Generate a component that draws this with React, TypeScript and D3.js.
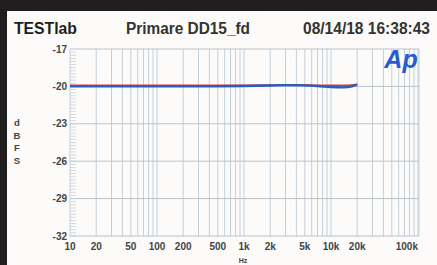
import React, { useEffect, useRef } from "react";
import * as d3 from "d3";

// frequency response, dBFS
const freqs = [10, 20, 50, 100, 200, 500, 1000, 2000, 3000, 5000, 7000, 10000, 14000, 17000, 20000];
const blueLevels = [-20, -20, -20, -20, -20, -19.99, -19.97, -19.93, -19.9, -19.92, -19.97, -20.05, -20.08, -20.02, -19.86];
const redLevels = [-19.93, -19.93, -19.93, -19.93, -19.93, -19.93, -19.92, -19.9, -19.88, -19.9, -19.92, -19.92, -19.92, -19.9, -19.85];

const yTicks = [-17, -20, -23, -26, -29, -32];
const xTickValues = [10, 20, 50, 100, 200, 500, 1000, 2000, 5000, 10000, 20000, 100000];
const xTickLabels = ["10", "20", "50", "100", "200", "500", "1k", "2k", "5k", "10k", "20k", "100k"];

const App = () => {
  const ref = useRef(null);

  useEffect(() => {
    const width = 437;
    const height = 265;
    const svg = d3.select(ref.current).attr("width", width).attr("height", height);
    svg.selectAll("*").remove();

    const x = d3.scaleLog().domain([10, 100000]).range([70, 418]);
    const y = d3.scaleLinear().domain([-32, -17]).range([236, 49]);
    const font = "'Liberation Sans', Arial, sans-serif";

    // dark frame + white panel
    svg.append("rect").attr("width", width).attr("height", height).attr("fill", "#1f1d1d");
    svg.append("rect").attr("x", 7).attr("y", 11).attr("width", width - 7).attr("height", height - 11).attr("fill", "#fcfbfa");

    // header
    const header = [
      { t: "TESTlab", x: 14, w: 63, wt: "bold" },
      { t: "Primare DD15_fd", x: 126, w: 124, wt: "bold" },
      { t: "08/14/18 16:38:43", x: 303, w: 127, wt: "bold" },
    ];
    svg.selectAll("text.hdr")
      .data(header)
      .enter()
      .append("text")
      .attr("class", "hdr")
      .attr("x", d => d.x)
      .attr("y", 34)
      .attr("textLength", d => d.w)
      .attr("lengthAdjust", "spacingAndGlyphs")
      .attr("font-family", font)
      .attr("font-size", 16)
      .attr("font-weight", d => d.wt)
      .attr("fill", (_, i) => (i === 0 ? "#1e1e1e" : "#333"))
      .text(d => d.t);

    // vertical grid: 1..9 per decade
    const vLines = [];
    for (let dec = 10; dec < 100000; dec *= 10) {
      for (let m = 1; m < 10; m++) vLines.push(dec * m);
    }
    vLines.push(100000);
    svg.selectAll("line.v")
      .data(vLines)
      .enter()
      .append("line")
      .attr("x1", d => x(d))
      .attr("x2", d => x(d))
      .attr("y1", y(-17))
      .attr("y2", y(-32))
      .attr("stroke", "#c3d0da")
      .attr("stroke-width", 1);
    svg.append("line")
      .attr("x1", 419).attr("x2", 419).attr("y1", y(-17)).attr("y2", y(-32))
      .attr("stroke", "#c3d0da");

    // horizontal grid
    svg.selectAll("line.h")
      .data(yTicks)
      .enter()
      .append("line")
      .attr("x1", 70)
      .attr("x2", 419)
      .attr("y1", d => y(d))
      .attr("y2", d => y(d))
      .attr("stroke", "#b9c3cb")
      .attr("stroke-width", 1);

    // minor ticks on left edge
    const minor = d3.range(-32, -17, 0.25);
    svg.selectAll("line.m")
      .data(minor)
      .enter()
      .append("line")
      .attr("x1", 70)
      .attr("x2", 76)
      .attr("y1", d => y(d))
      .attr("y2", d => y(d))
      .attr("stroke", "#c8d0d8")
      .attr("stroke-width", 0.8);

    // y labels
    svg.selectAll("text.yl")
      .data(yTicks)
      .enter()
      .append("text")
      .attr("x", 67)
      .attr("y", d => y(d) + 3.5)
      .attr("text-anchor", "end")
      .attr("font-family", font)
      .attr("font-size", 10)
      .attr("font-weight", "bold")
      .attr("fill", "#444")
      .text(d => d);

    // dBFS vertical label
    svg.selectAll("text.unit")
      .data(["d", "B", "F", "S"])
      .enter()
      .append("text")
      .attr("x", 17)
      .attr("y", (_, i) => 126 + i * 12.5)
      .attr("text-anchor", "middle")
      .attr("font-family", font)
      .attr("font-size", 9.5)
      .attr("font-weight", "bold")
      .attr("fill", "#444")
      .text(d => d);

    // x labels
    svg.selectAll("text.xl")
      .data(xTickValues)
      .enter()
      .append("text")
      .attr("x", d => x(d))
      .attr("y", 250)
      .attr("text-anchor", d => (d === 100000 ? "end" : "middle"))
      .attr("font-family", font)
      .attr("font-size", 10)
      .attr("font-weight", "bold")
      .attr("fill", "#444")
      .text((_, i) => xTickLabels[i]);

    svg.append("text")
      .attr("x", 243)
      .attr("y", 263)
      .attr("text-anchor", "middle")
      .attr("font-family", font)
      .attr("font-size", 7)
      .attr("font-weight", "bold")
      .attr("fill", "#444")
      .text("Hz");

    // Ap logo
    svg.append("text")
      .attr("x", 401)
      .attr("y", 68)
      .attr("text-anchor", "middle")
      .attr("font-family", font)
      .attr("font-size", 25)
      .attr("font-style", "italic")
      .attr("font-weight", "bold")
      .attr("fill", "#2a5ad0")
      .text("Ap");

    const line = d3.line()
      .x(d => x(d[0]))
      .y(d => y(d[1]))
      .curve(d3.curveMonotoneX);

    svg.append("path")
      .datum(freqs.map((f, i) => [f, redLevels[i]]))
      .attr("d", line)
      .attr("fill", "none")
      .attr("stroke", "#e0343a")
      .attr("stroke-width", 2);

    svg.append("path")
      .datum(freqs.map((f, i) => [f, blueLevels[i]]))
      .attr("d", line)
      .attr("fill", "none")
      .attr("stroke", "#2460c4")
      .attr("stroke-width", 2.4);
  }, []);

  return <svg ref={ref} style={{ position: "absolute", left: 0, top: 0 }}></svg>;
};

export default App;
